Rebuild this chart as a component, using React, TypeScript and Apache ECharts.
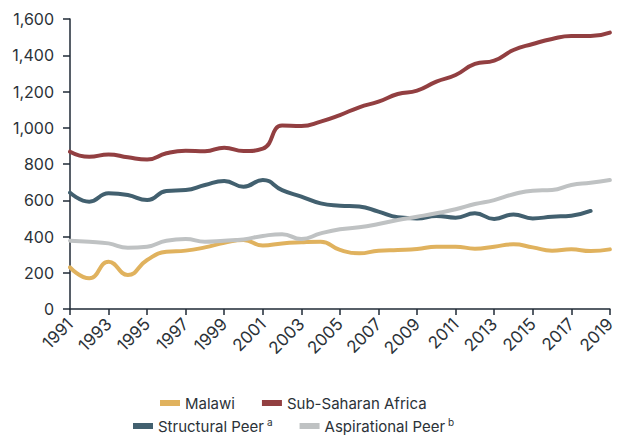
import React, { useEffect, useRef } from "react";
import * as echarts from "echarts";

const years = [
  "1991", "1992", "1993", "1994", "1995", "1996", "1997", "1998", "1999", "2000",
  "2001", "2002", "2003", "2004", "2005", "2006", "2007", "2008", "2009", "2010",
  "2011", "2012", "2013", "2014", "2015", "2016", "2017", "2018", "2019",
];

const malawi = [
  230, 169, 261, 188, 270, 316, 322, 340, 365, 381,
  350, 362, 368, 371, 326, 307, 322, 326, 331, 344,
  344, 333, 344, 357, 340, 322, 329, 320, 329,
];

const subSaharanAfrica = [
  868, 840, 853, 837, 825, 859, 873, 870, 890, 872,
  885, 1012, 1010, 1034, 1070, 1113, 1144, 1186, 1205, 1254,
  1291, 1352, 1370, 1429, 1462, 1490, 1506, 1506, 1525,
];

const structuralPeer = [
  642, 592, 638, 629, 601, 651, 656, 684, 706, 675,
  712, 656, 620, 583, 570, 565, 537, 506, 500, 513,
  504, 528, 497, 522, 500, 509, 515, 541, null,
];

const aspirationalPeer = [
  377, 371, 362, 338, 344, 377, 386, 371, 377, 384,
  403, 413, 386, 417, 440, 451, 469, 491, 509, 528,
  550, 579, 601, 633, 653, 656, 684, 697, 712,
];

const yTicks = { min: 0, max: 1600, interval: 200 };

const FONT = "Inter, 'Noto Sans', sans-serif";
const TEXT = "#2b3238";
const AXIS = "#1f2a36";

export default function App() {
  const ref = useRef<HTMLDivElement>(null);

  useEffect(() => {
    if (!ref.current) return;
    const chart = echarts.init(ref.current, null, { renderer: "svg" });
    const mk = (name: string, data: (number | null)[], color: string) => ({
      name,
      type: "line",
      data,
      smooth: 0.5,
      showSymbol: false,
      symbol: "none",
      connectNulls: false,
      lineStyle: { width: 4, color, cap: "round" },
      itemStyle: { color },
    });
    const legendBase = {
      itemWidth: 20,
      itemHeight: 6,
      itemGap: 27,
      icon: "rect",
      padding: 0,
      textStyle: {
        fontFamily: FONT,
        fontSize: 15,
        color: TEXT,
        lineHeight: 18,
        rich: {
          n: { fontFamily: FONT, fontSize: 15, color: TEXT, lineHeight: 18 },
          s: { fontFamily: FONT, fontSize: 10, color: TEXT, verticalAlign: "top", padding: [0, 0, 0, 3], lineHeight: 14 },
        },
      },
    };
    chart.setOption({
      animation: false,
      backgroundColor: "#ffffff",
      grid: { left: 70, right: 2, top: 19, bottom: 127, containLabel: false },
      legend: [
        { ...legendBase, left: 160, top: 394, data: ["Malawi", "Sub-Saharan Africa"] },
        {
          ...legendBase,
          left: 133,
          top: 417,
          data: ["Structural Peer", "Aspirational Peer"],
          formatter: (name: string) =>
            name === "Structural Peer" ? "{n|Structural Peer}{s|a}" : "{n|Aspirational Peer}{s|b}",
        },
      ],
      xAxis: {
        type: "category",
        data: years,
        boundaryGap: false,
        axisLine: { lineStyle: { color: AXIS, width: 1.5 } },
        axisTick: { interval: 1, length: 6, lineStyle: { color: AXIS, width: 1.5 } },
        axisLabel: {
          interval: 1,
          rotate: 45,
          margin: 12,
          fontFamily: FONT,
          fontSize: 17,
          color: TEXT,
        },
        splitLine: { show: false },
      },
      yAxis: {
        type: "value",
        min: yTicks.min,
        max: yTicks.max,
        interval: yTicks.interval,
        axisLine: { show: true, lineStyle: { color: AXIS, width: 1.5 } },
        axisTick: { show: true, length: 7, lineStyle: { color: AXIS, width: 1.5 } },
        axisLabel: {
          margin: 16,
          fontFamily: FONT,
          fontSize: 16,
          color: TEXT,
          formatter: (v: number) => v.toLocaleString("en-US"),
        },
        splitLine: { show: false },
      },
      series: [
        mk("Malawi", malawi, "#e0b25e"),
        mk("Sub-Saharan Africa", subSaharanAfrica, "#923f41"),
        mk("Structural Peer", structuralPeer, "#42606f"),
        mk("Aspirational Peer", aspirationalPeer, "#bfc2c3"),
      ],
    });
    return () => chart.dispose();
  }, []);

  return <div ref={ref} style={{ width: 618, height: 436, position: "absolute", left: 0, top: 0 }} />;
}
